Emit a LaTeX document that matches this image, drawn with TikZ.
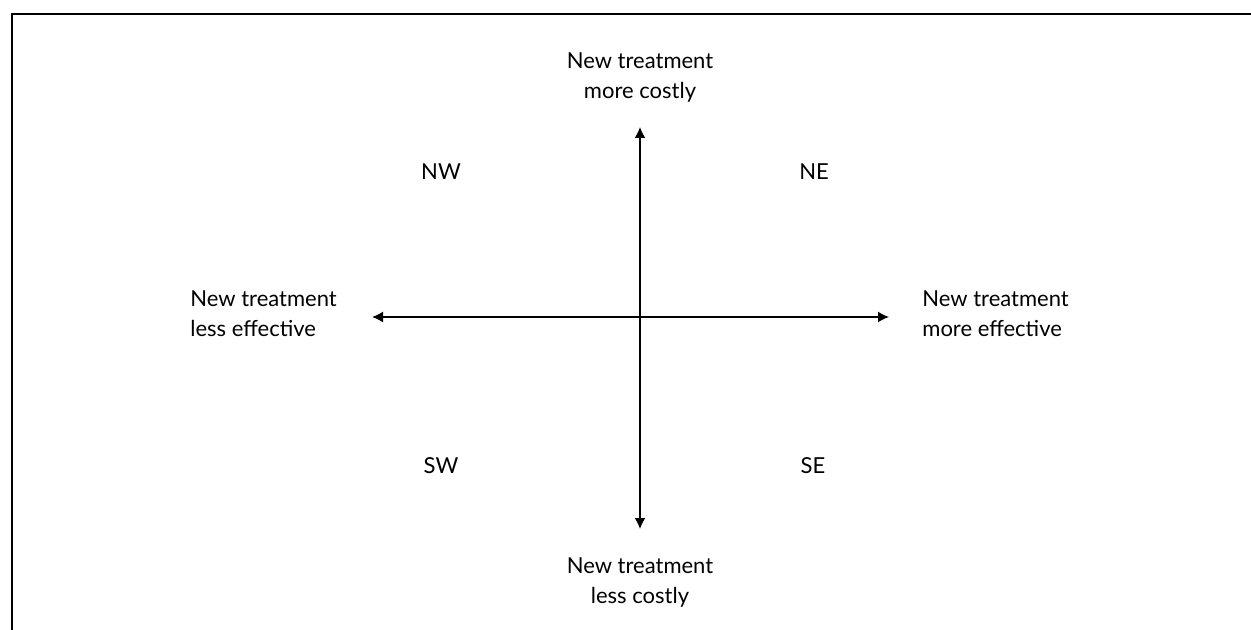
\documentclass[tikz,border=0pt]{standalone}
\usepackage{fontspec}
\setmainfont{Lato}
\usetikzlibrary{arrows.meta,positioning}
\tikzstyle{axislabel} = [font=\fontsize{11}{15}\selectfont, inner sep=0pt]
\tikzstyle{quadrant} = [font=\fontsize{11}{15}\selectfont, inner sep=0pt]
\tikzstyle{axis} = [line width=0.75pt, {Latex[length=5.5pt,width=5.5pt]}-{Latex[length=5.5pt,width=5.5pt]}]

\begin{document}
\begin{tikzpicture}[x=0.5pt, y=-0.5pt]
    \useasboundingbox (0,0) rectangle (1251,630);
    % Frame
    \draw [line width=1pt, black] (12,630) -- (12,14) -- (1251,14);
    % Axis ends
    \coordinate (top) at (640,127);
    \coordinate (bottom) at (640,529);
    \coordinate (left) at (372,317);
    \coordinate (right) at (889,317);
    % Axes
    \draw [axis] (top) -- (bottom);
    \draw [axis] (left) -- (right);
    % Axis labels
    \node [axislabel, align=center, above=12pt of top] (costly) {New treatment\\more costly};
    \node [axislabel, align=center, below=14pt of bottom] (cheap) {New treatment\\less costly};
    \node [axislabel, align=left, anchor=west] (worse) at (190,314) {New treatment\\less effective};
    \node [axislabel, align=left, anchor=west] (better) at (922,314) {New treatment\\more effective};
    % Quadrants
    \node [quadrant] (nw) at (441,172) {NW};
    \node [quadrant] (ne) at (814,172) {NE};
    \node [quadrant] (sw) at (441,466) {SW};
    \node [quadrant] (se) at (813,466) {SE};
\end{tikzpicture}
\end{document}
